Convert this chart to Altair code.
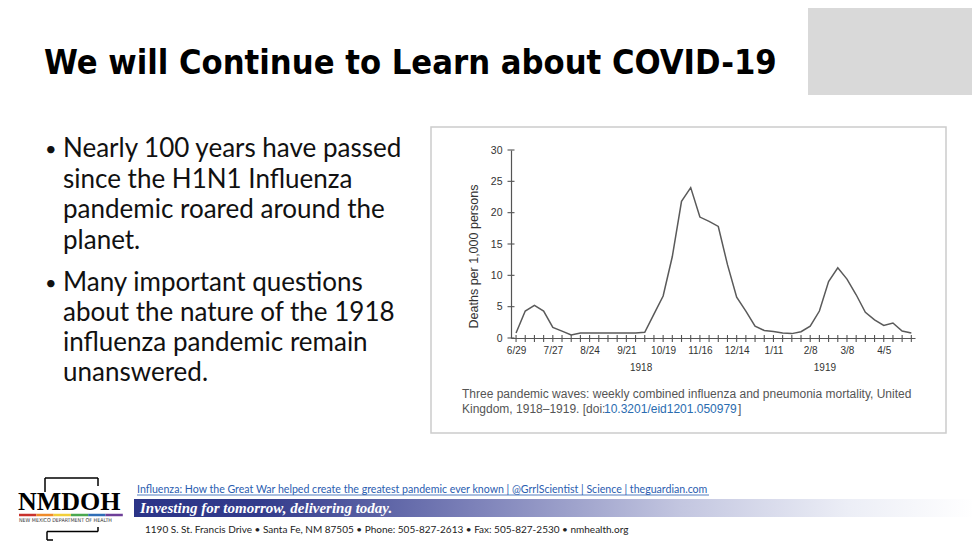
import altair as alt
import pandas as pd

# ---------------- data ----------------
weeks = list(range(44))  # weekly points starting 6/29/1918
deaths = [0.8, 4.3, 5.2, 4.3, 1.7, 1.1, 0.5, 0.8, 0.8, 0.8, 0.8, 0.8, 0.8, 0.8,
          0.9, 3.8, 6.7, 13.0, 21.8, 24.0, 19.3, 18.6, 17.8, 11.7, 6.5, 4.3, 1.9,
          1.2, 1.05, 0.8, 0.7, 1.0, 1.9, 4.3, 9.0, 11.2, 9.4, 6.9, 4.1, 2.9, 2.0, 2.4, 1.1, 0.8]
tick_labels = ["6/29", "7/27", "8/24", "9/21", "10/19", "11/16", "12/14", "1/11", "2/8", "3/8", "4/5"]
y_ticks = [0, 5, 10, 15, 20, 25, 30]
year_labels = ["1918", "1919"]
year_weeks = [13.6, 33.6]

title_text = "We will Continue to Learn about COVID-19"
bullet1 = ["Nearly 100 years have passed", "since the H1N1 Influenza",
           "pandemic roared around the", "planet."]
bullet2 = ["Many important questions", "about the nature of the 1918",
           "influenza pandemic remain", "unanswered."]
caption1 = "Three pandemic waves: weekly combined influenza and pneumonia mortality, United"
caption2a = "Kingdom, 1918\u20131919. [doi:"
caption2b = "10.3201/eid1201.050979"
caption2c = "]"
link_text = ("Influenza: How the Great War helped create the greatest pandemic ever known | "
             "@GrrlScientist | Science | theguardian.com")
slogan = "Investing for tomorrow, delivering today."
address = ("1190 S. St. Francis Drive \u2022 Santa Fe, NM 87505 \u2022 Phone: 505-827-2613 "
           "\u2022 Fax: 505-827-2530 \u2022 nmhealth.org")
rainbow = ["#c8312d", "#ef8a2a", "#f2cf3a", "#4aa84f", "#2f6db6", "#6e3f98"]

# ---------------- layout helpers ----------------
W, H = 404, 188           # plot area
PADL, PADT = 503, 142     # plot origin inside the chart (page offset 8px)
TOTW, TOTH = 964, 534


def px(X):
    return X - 8 - PADL


def py(Y):
    return Y - 8 - PADT


one = pd.DataFrame({"k": [0]})


def txt(s, X, Y, size, font="Lato", color="#000000", weight="normal", style="normal",
        align="left", angle=0):
    return alt.Chart(one).mark_text(
        text=s, fontSize=size, font=font, color=color, fontWeight=weight,
        fontStyle=style, align=align, baseline="alphabetic", angle=angle
    ).encode(x=alt.value(px(X)), y=alt.value(py(Y)))


def box(X1, Y1, X2, Y2, fill="#ffffff", stroke=None, sw=1):
    kw = dict(fill=fill)
    if stroke:
        kw.update(stroke=stroke, strokeWidth=sw)
    else:
        kw.update(strokeWidth=0)
    return alt.Chart(one).mark_rect(**kw).encode(
        x=alt.value(px(X1)), x2=alt.value(px(X2)), y=alt.value(py(Y1)), y2=alt.value(py(Y2)))


def seg(X1, Y1, X2, Y2, color="#000000", sw=1.5):
    return alt.Chart(one).mark_rule(color=color, strokeWidth=sw).encode(
        x=alt.value(px(X1)), x2=alt.value(px(X2)), y=alt.value(py(Y1)), y2=alt.value(py(Y2)))


# ---------------- the chart ----------------
df = pd.DataFrame({"week": weeks, "deaths": deaths})
xscale = alt.Scale(domain=[-0.55, 43.4], nice=False, zero=False)
yscale = alt.Scale(domain=[0, 30], nice=False)
labels_js = "[" + ",".join("'%s'" % l for l in tick_labels) + "]"

xaxis = alt.Axis(values=weeks, title=None, grid=False, ticks=False, tickSize=0, zindex=2,
                 labelExpr="datum.value % 4 == 0 && datum.value <= 40 ? " + labels_js +
                           "[datum.value / 4] : ''",
                 labelOverlap=False, labelFlush=False, labelPadding=7, labelFontSize=10,
                 labelFont="Liberation Sans", labelColor="#333333",
                 domainColor="#555555", domainWidth=1.2)
yaxis = alt.Axis(values=y_ticks, title="Deaths per 1,000 persons", grid=False, zindex=2,
                 ticks=False, tickSize=0,
                 domainColor="#555555", domainWidth=1.2,
                 labelFontSize=10.5, labelFont="Liberation Sans", labelColor="#333333",
                 labelPadding=9, titleFont="Liberation Sans", titleFontSize=12.5,
                 titleFontWeight="normal", titleColor="#333333",
                 titleBaseline="middle", titleX=px(473.5), titleY=py(256))

line = alt.Chart(df).mark_line(color="#5a5a5a", strokeWidth=1.5).encode(
    x=alt.X("week:Q", scale=xscale, axis=xaxis),
    y=alt.Y("deaths:Q", scale=yscale, axis=yaxis))

xticks = alt.Chart(df).mark_rule(color="#555555", strokeWidth=1.1).encode(
    x=alt.X("week:Q", scale=xscale, axis=xaxis), y=alt.value(H - 3), y2=alt.value(H + 4))

yticks = alt.Chart(pd.DataFrame({"v": y_ticks})).mark_rule(color="#555555", strokeWidth=1.1).encode(
    y=alt.Y("v:Q", scale=yscale, axis=yaxis), x=alt.value(-3.5), x2=alt.value(3.5))

years = alt.Chart(pd.DataFrame({"w": year_weeks, "t": year_labels})).mark_text(
    fontSize=10, font="Liberation Sans", color="#333333", baseline="alphabetic"
).encode(x=alt.X("w:Q", scale=xscale, axis=xaxis), y=alt.value(py(371)), text="t:N")

# ---------------- slide decorations ----------------
layers = []
layers.append(box(808, 0, 980, 95, fill="#d9d9d9"))
layers.append(txt(title_text, 44, 74, 34.2, font="DejaVu Sans Condensed", weight="bold"))

# bullets
b1_y = [157, 187.5, 218, 248.5]
b2_y = [290.5, 320.5, 350.5, 380.5]
layers.append(txt("\u2022", 45, b1_y[0] - 1, 20, color="#111111"))
layers.append(txt("\u2022", 45, b2_y[0] - 1, 20, color="#111111"))
for s, yy in zip(bullet1, b1_y):
    layers.append(txt(s, 63, yy, 26, color="#111111"))
for s, yy in zip(bullet2, b2_y):
    layers.append(txt(s, 63, yy, 26, color="#111111"))

# figure frame
frame = box(431, 127, 946, 433, fill="#ffffff", stroke="#cccccc", sw=1.5)

# caption
cap = [
    txt(caption1, 462, 397.5, 12, font="Liberation Sans", color="#555555"),
    txt(caption2a, 462, 412.5, 12, font="Liberation Sans", color="#555555"),
    txt(caption2b, 604, 412.5, 12, font="Liberation Sans", color="#2a6cb0"),
    txt(caption2c, 738, 412.5, 12, font="Liberation Sans", color="#555555"),
]

# footer
grad = alt.LinearGradient(
    gradient="linear", x1=0, x2=1, y1=0, y2=0,
    stops=[alt.GradientStop(color="#2b3487", offset=0),
           alt.GradientStop(color="#333c8c", offset=0.15),
           alt.GradientStop(color="#7b80b8", offset=0.4),
           alt.GradientStop(color="#c3c6e0", offset=0.65),
           alt.GradientStop(color="#eceef6", offset=0.85),
           alt.GradientStop(color="#ffffff", offset=1)])
band = alt.Chart(one).mark_rect(fill=grad, strokeWidth=0).encode(
    x=alt.value(px(134)), x2=alt.value(px(975)), y=alt.value(py(499)), y2=alt.value(py(517)))
footer = [
    txt(link_text, 137, 493, 10.6, color="#2a5db0"),
    seg(137, 495, 709, 495, color="#2a5db0", sw=0.8),
    band,
    txt(slogan, 140, 513, 15, font="Liberation Serif", color="#ffffff", weight="bold", style="italic"),
    txt(address, 145, 532.5, 10, color="#222222"),
    # logo
    txt("NMDOH", 18, 509.5, 26, font="Liberation Serif", weight="bold"),
    txt("NEW MEXICO DEPARTMENT OF HEALTH", 19, 522, 5.3, font="DejaVu Sans Condensed", color="#333333"),
    seg(45, 492, 45, 478), seg(45, 478, 98, 478), seg(98, 478, 98, 486),
    seg(47, 531.5, 98, 531.5), seg(98, 531.5, 98, 527), seg(47, 531.5, 47, 540), seg(47, 540, 53, 540),
]
for i, c in enumerate(rainbow):
    x0 = 19 + i * 17.3
    footer.append(seg(x0, 515, x0 + 17.3, 515, color=c, sw=2.5))

chart = alt.layer(*layers, frame, line, xticks, yticks, years, *cap, *footer).properties(
    width=W, height=H,
    padding={"left": PADL, "top": PADT, "right": TOTW - PADL - W, "bottom": TOTH - PADT - H},
    autosize="none", background="#ffffff"
).configure_view(stroke=None)

chart.save("out.html", embed_options={"renderer": "svg", "actions": False})
